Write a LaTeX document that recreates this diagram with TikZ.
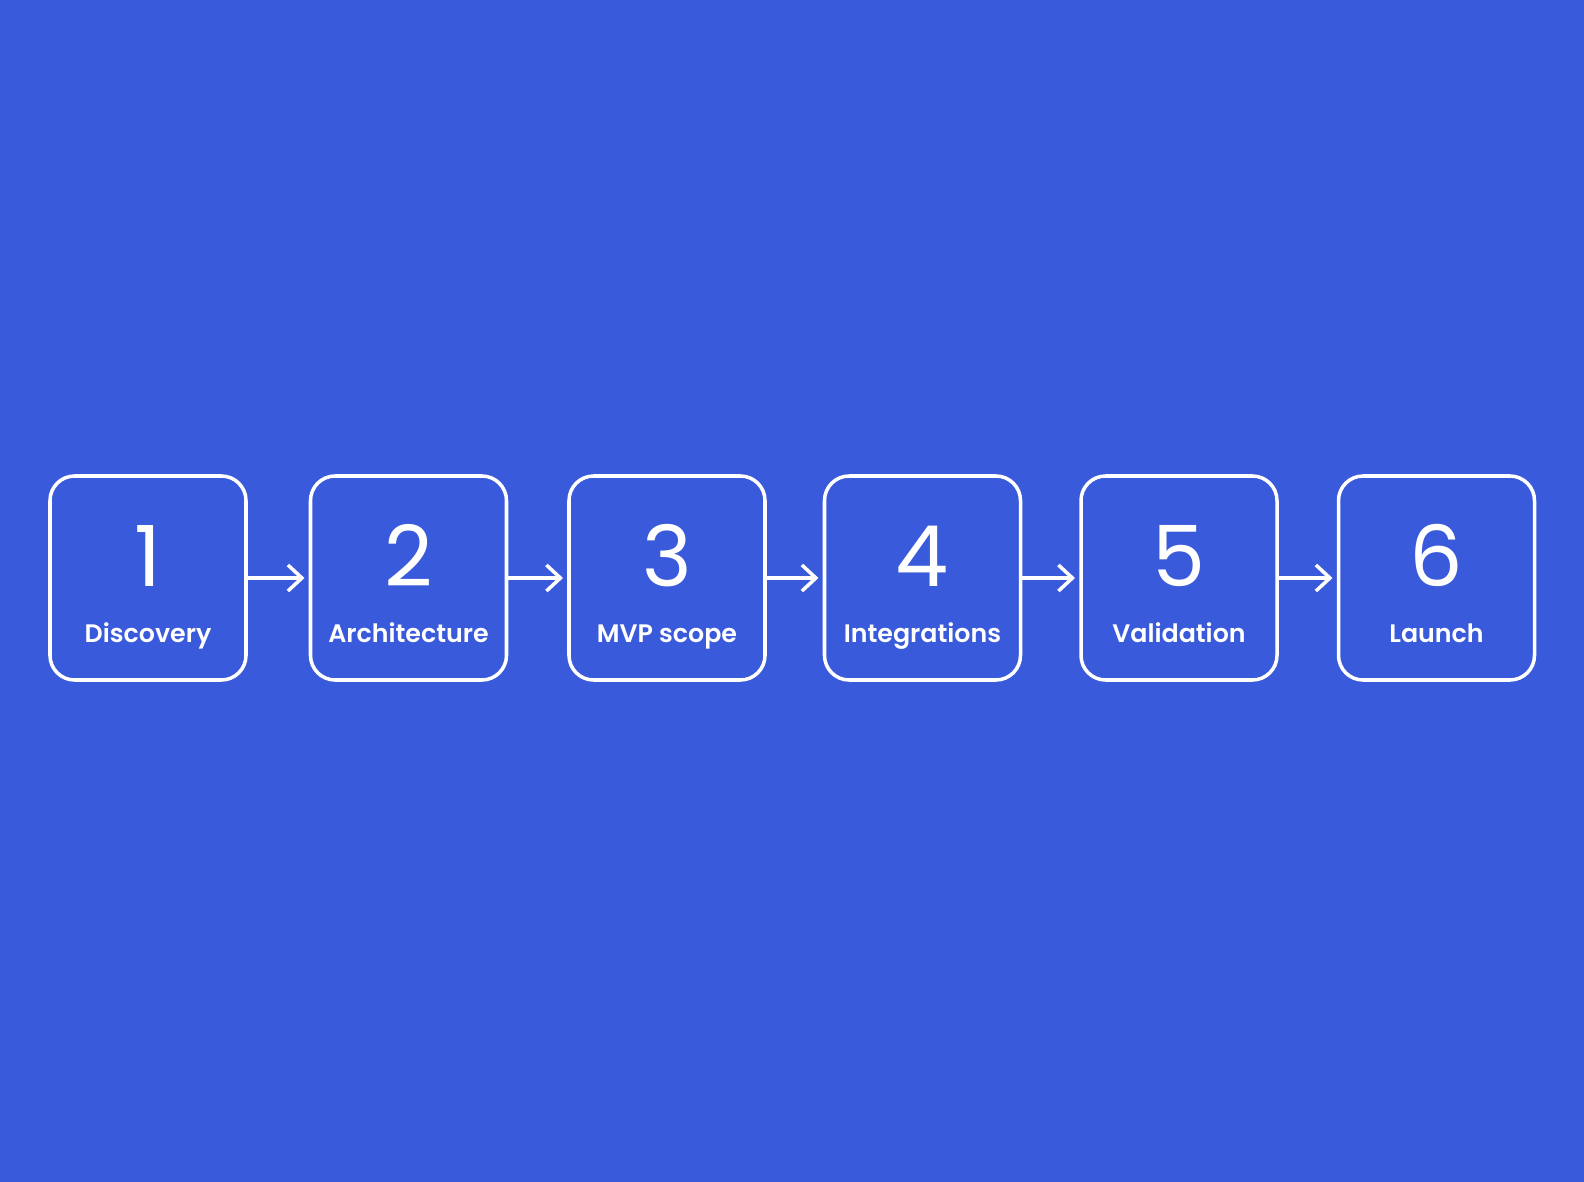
\documentclass[tikz,border=0pt]{standalone}
\usepackage{fontspec}
\setmainfont{Poppins}
\newfontfamily\numfont{Poppins}
\newfontfamily\lblfont{Poppins SemiBold}
\usepackage{tikz}
\usetikzlibrary{calc,positioning}
\usetikzlibrary{arrows.meta}
\definecolor{bgblue}{RGB}{57,90,218}
\tikzset{>={Straight Barb[length=2.8mm,width=5.2mm]}}

\begin{document}
\begin{tikzpicture}
    \tikzstyle{snode} = [draw=white, line width=2pt, rounded corners=14pt, minimum width=3.92cm, minimum height=4.08cm, outer sep=0pt, inner sep=0pt]
    \tikzstyle{dnode} = [text=white, anchor=base, inner sep=0pt, font=\numfont\fontsize{48}{48}\selectfont]
    \tikzstyle{lnode} = [text=white, anchor=base, inner sep=0pt, font=\lblfont\fontsize{14.4}{14.4}\selectfont]

    % background
    \fill[bgblue] (0,0) rectangle (31.68,-23.64);
    \useasboundingbox (0,0) rectangle (31.68,-23.64);

    % boxes
    \node[snode] (disc) at (2.96,-11.56) {};
    \node[snode, right=1.29cm of disc] (arch) {};
    \node[snode, right=1.25cm of arch] (mvp) {};
    \node[snode, right=1.19cm of mvp] (integ) {};
    \node[snode, right=1.21cm of integ] (valid) {};
    \node[snode, right=1.23cm of valid] (launch) {};

    % numbers and names
    \node[dnode] (num1) at ([yshift=-0.16cm]disc.center) {1};
    \node[dnode] (num2) at ([yshift=-0.16cm]arch.center) {2};
    \node[dnode] (num3) at ([yshift=-0.16cm]mvp.center) {3};
    \node[dnode] (num4) at ([yshift=-0.16cm]integ.center) {4};
    \node[dnode] (num5) at ([yshift=-0.16cm]valid.center) {5};
    \node[dnode] (num6) at ([yshift=-0.16cm]launch.center) {6};

    \node[lnode] (lbl1) at ([yshift=-1.28cm]disc.center) {Discovery};
    \node[lnode] (lbl2) at ([yshift=-1.28cm]arch.center) {Architecture};
    \node[lnode] (lbl3) at ([yshift=-1.28cm]mvp.center) {MVP scope};
    \node[lnode] (lbl4) at ([yshift=-1.28cm]integ.center) {Integrations};
    \node[lnode] (lbl5) at ([yshift=-1.28cm]valid.center) {Validation};
    \node[lnode] (lbl6) at ([yshift=-1.28cm]launch.center) {Launch};

    \draw[->, white, line width=2pt, shorten >=0.12cm] (disc) -- (arch);
    \draw[->, white, line width=2pt, shorten >=0.12cm] (arch) -- (mvp);
    \draw[->, white, line width=2pt, shorten >=0.12cm] (mvp) -- (integ);
    \draw[->, white, line width=2pt, shorten >=0.12cm] (integ) -- (valid);
    \draw[->, white, line width=2pt, shorten >=0.12cm] (valid) -- (launch);
\end{tikzpicture}
\end{document}
